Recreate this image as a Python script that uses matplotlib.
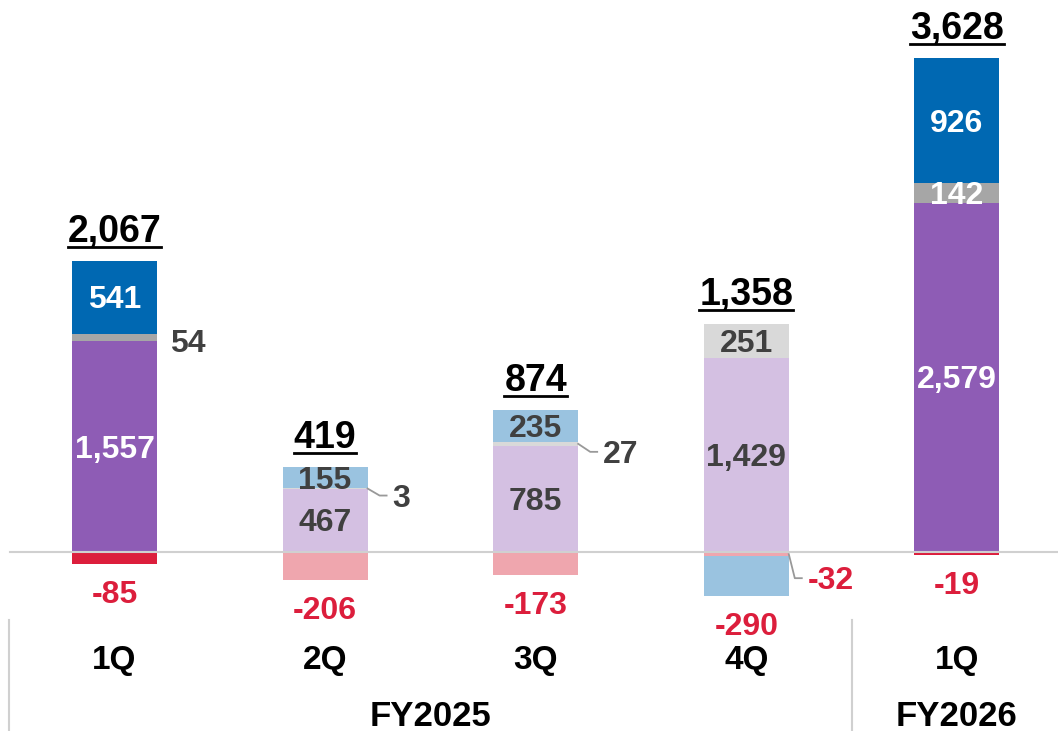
import matplotlib
matplotlib.use("Agg")
import matplotlib.pyplot as plt
from matplotlib.lines import Line2D
from matplotlib.transforms import blended_transform_factory

# ---- data ----
quarters = ["1Q", "2Q", "3Q", "4Q", "1Q"]
fiscal_years = ["FY2025", "FY2026"]
fy_members = [[0, 1, 2, 3], [4]]

main_vals = [1557, 467, 785, 1429, 2579]      # purple
other_vals = [54, 3, 27, 251, 142]            # gray
upper_vals = [541, 155, 235, -290, 926]       # blue
adjust_vals = [-85, -206, -173, -32, -19]     # red
totals = [2067, 419, 874, 1358, 3628]

# ---- style ----
plt.rcParams['font.family'] = ['Liberation Sans', 'DejaVu Sans']
plt.rcParams['font.weight'] = 'bold'

solid = {"main": "#8E5CB5", "other": "#A6A6A6", "upper": "#0068B2", "adjust": "#DC1E3C"}
light = {"main": "#D4C0E2", "other": "#D9D9D9", "upper": "#9AC3E0", "adjust": "#EFA6AE"}
highlight = [0, 4]
red_text = "#DC1E3C"
dark_text = "#404040"
rule_color = "#D0D0D0"
leader_color = "#999999"

W_PX, H_PX = 1058, 731
bar_width = 0.4036
spacing_px = 210.6
unit_px = 494 / 3647          # pixels per unit on y
label_fs = 23

fig = plt.figure(figsize=(W_PX / 100, H_PX / 100), dpi=100)
ax = fig.add_axes([0, 0, 1, 1])
ax.set_xlim(-114.5 / spacing_px, (W_PX - 114.5) / spacing_px)
ax.set_ylim(-(H_PX - 552) / unit_px, 552 / unit_px)
ax.axis("off")

xpp = 1 / spacing_px          # data x per pixel
ypp = 1 / unit_px             # data y per pixel
nudge = -3 * ypp              # text sits a touch lower than box centre

order = [("adjust", adjust_vals), ("main", main_vals), ("other", other_vals), ("upper", upper_vals)]

# leader offsets (dx, dy) in px for labels pointed out beside the bar
leaders = {(1, "other"): (12, -7), (2, "other"): (12, -8), (3, "adjust"): (6, -24)}

for i in range(len(quarters)):
    pal = solid if i in highlight else light
    pos_base, neg_base = 0, 0
    segs = {}
    for key, vals in order:
        v = vals[i]
        if v >= 0:
            bottom = pos_base
            pos_base += v
        else:
            bottom = neg_base
            neg_base += v
        ax.bar(i, v, bottom=bottom, width=bar_width, color=pal[key], linewidth=0, zorder=2)
        segs[key] = (bottom, v)

    lowest_neg = min((k for k in segs if segs[k][1] < 0), key=lambda k: segs[k][0] + segs[k][1])
    inside_color = "white" if i in highlight else dark_text
    right_edge = i + bar_width / 2

    for key, (bottom, v) in segs.items():
        mid = bottom + v / 2
        label = f"{v:,}"
        if key == lowest_neg:
            ax.text(i, bottom + v - 28 * ypp + nudge, label, ha="center", va="center",
                    fontsize=label_fs, color=red_text, fontweight="bold")
        elif (i, key) in leaders:
            dx, dy = leaders[(i, key)]
            xs = [right_edge, right_edge + dx * xpp, right_edge + (dx + 7) * xpp]
            ys = [mid, mid + dy * ypp, mid + dy * ypp]
            ax.plot(xs, ys, color=leader_color, lw=1.3, zorder=3)
            ax.text(right_edge + (dx + 13) * xpp, mid + dy * ypp + nudge, label, ha="left", va="center",
                    fontsize=label_fs, color=red_text if v < 0 else dark_text, fontweight="bold")
        elif abs(v) * unit_px < 15:
            ax.text(right_edge + 13 * xpp, mid - 4 * ypp + nudge, label, ha="left", va="center",
                    fontsize=label_fs, color=dark_text, fontweight="bold")
        else:
            ax.text(i, mid + nudge, label, ha="center", va="center",
                    fontsize=label_fs, color=inside_color, fontweight="bold", zorder=4)

    # total on top
    ax.text(i, pos_base + 32 * ypp + nudge, f"{totals[i]:,}", ha="center", va="center",
            fontsize=27, color="black", fontweight="bold", gid=f"total{i}")

# zero line
ax.axhline(0, xmin=(10 / W_PX), xmax=1, color=rule_color, lw=1.5, zorder=5)

# category axis
bt = blended_transform_factory(ax.transData, fig.transFigure)
for i, q in enumerate(quarters):
    ax.text(i, 1 - 660 / H_PX, q, transform=bt, ha="center", va="center",
            fontsize=24, fontweight="bold", color="black")
for fy, members in zip(fiscal_years, fy_members):
    cx = (members[0] + members[-1]) / 2
    ax.text(cx, 1 - 716 / H_PX, fy, transform=bt, ha="center", va="center",
            fontsize=25, fontweight="bold", color="black")
    ax.plot([members[0] - 0.5] * 2, [0, 1 - 620 / H_PX], transform=bt,
            color=rule_color, lw=1.5, clip_on=False)

# underline totals
fig.canvas.draw()
renderer = fig.canvas.get_renderer()
for t in ax.texts:
    if t.get_gid() and t.get_gid().startswith("total"):
        bb = t.get_window_extent(renderer)
        y = bb.y0 + 3
        fig.add_artist(Line2D([bb.x0 / W_PX, bb.x1 / W_PX], [y / H_PX] * 2,
                              transform=fig.transFigure, color="black", lw=2))

fig.savefig("out.png", dpi=100)
